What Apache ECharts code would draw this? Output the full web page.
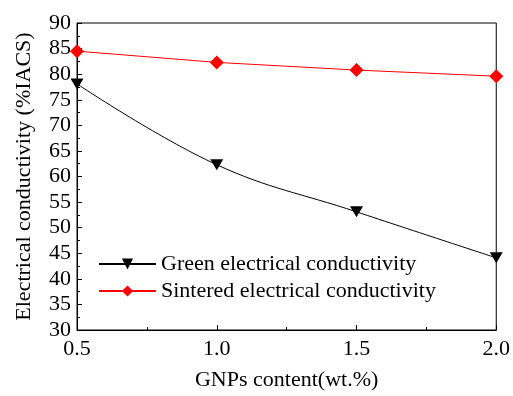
<!DOCTYPE html>
<html>
<head>
<meta charset="utf-8">
<script src="https://cdn.jsdelivr.net/npm/echarts@6/dist/echarts.min.js"></script>
<style>
html, body { margin: 0; padding: 0; background: #fff; }
#chart { width: 513px; height: 396px; }
</style>
</head>
<body>
<div id="chart"></div>
<script>
// GNPs content (wt.%)
var gnps = [0.5, 1.0, 1.5, 2.0];
// conductivity (%IACS)
var green = [78.1, 62.3, 53.1, 44.1];
var sintered = [84.5, 82.3, 80.8, 79.6];
var seriesNames = ['Green electrical conductivity', 'Sintered electrical conductivity'];

var font = 'Liberation Serif, Times New Roman, serif';

var myChart = echarts.init(document.getElementById('chart'));
var option = {
    backgroundColor: '#fff',
    animation: false,
    textStyle: { fontFamily: font },
    grid: {
        left: 77,
        right: 11,
        top: 23,
        bottom: 55,
        show: true,
        borderColor: '#000',
        borderWidth: 1
    },
    legend: {
        orient: 'vertical',
        left: 93,
        top: 248,
        itemWidth: 57,
        itemHeight: 14,
        itemGap: 5,
        textStyle: { fontFamily: font, fontSize: 22, color: '#000' },
        data: seriesNames
    },
    xAxis: {
        type: 'value',
        min: 0.5,
        max: 2.0,
        interval: 0.5,
        name: 'GNPs content(wt.%)',
        nameLocation: 'middle',
        nameGap: 39,
        nameTextStyle: { fontFamily: font, fontSize: 22, color: '#000' },
        axisLine: { show: true, lineStyle: { color: '#000', width: 1 } },
        axisTick: { show: true, inside: true, length: 5, lineStyle: { color: '#000' } },
        minorTick: { show: true, splitNumber: 2, length: 3, lineStyle: { color: '#000' } },
        axisLabel: {
            color: '#000', fontSize: 22, fontFamily: font, margin: 8,
            formatter: function (v) { return v.toFixed(1); }
        },
        splitLine: { show: false }
    },
    yAxis: {
        type: 'value',
        min: 30,
        max: 90,
        interval: 5,
        name: 'Electrical conductivity (%IACS)',
        nameLocation: 'middle',
        nameGap: 42,
        nameTextStyle: { fontFamily: font, fontSize: 22, color: '#000' },
        axisLine: { show: true, lineStyle: { color: '#000', width: 1 } },
        axisTick: { show: true, inside: true, length: 5, lineStyle: { color: '#000' } },
        minorTick: { show: true, splitNumber: 2, length: 3, lineStyle: { color: '#000' } },
        axisLabel: { color: '#000', fontSize: 22, fontFamily: font, margin: 6 },
        splitLine: { show: false }
    },
    series: [{
        name: seriesNames[0],
        type: 'line',
        smooth: 0.4,
        data: gnps.map(function (x, i) { return [x, green[i]]; }),
        symbol: 'triangle',
        symbolRotate: 180,
        symbolSize: [13, 11],
        lineStyle: { color: '#000', width: 1 },
        itemStyle: { color: '#000' }
    }, {
        name: seriesNames[1],
        type: 'line',
        data: gnps.map(function (x, i) { return [x, sintered[i]]; }),
        symbol: 'diamond',
        symbolSize: 14,
        lineStyle: { color: '#ff0000', width: 1 },
        itemStyle: { color: '#ff0000' }
    }]
};
myChart.setOption(option);
window.addEventListener('resize', function () {
    myChart.resize();
});
</script>
</body>
</html>
